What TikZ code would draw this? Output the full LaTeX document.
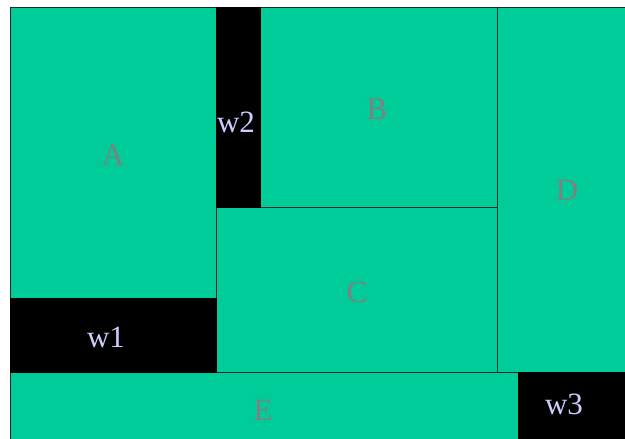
\documentclass[tikz,border=0pt]{standalone}
\usepackage{fontspec}
\setmainfont{Liberation Serif}
\definecolor{roomgreen}{RGB}{0,204,153}
\definecolor{labelgray}{RGB}{128,128,128}
\definecolor{walllabel}{RGB}{204,204,255}
\begin{document}
\begin{tikzpicture}[
        x=1pt, y=-1pt,
        room/.style={fill=roomgreen, draw=black!85, line width=0.9pt},
        wall/.style={fill=black, draw=black, line width=0.9pt},
        roomlabel/.style={text=labelgray, font=\fontsize{31}{31}\selectfont, inner sep=0pt},
        walllabel/.style={text=walllabel, font=\fontsize{31}{31}\selectfont, inner sep=0pt}
    ]
        \useasboundingbox (0,0) rectangle (625,439);

        % Rooms
        \filldraw [room] (10,7) rectangle (216,298);
        \filldraw [room] (260,7) rectangle (497,207);
        \filldraw [room] (216,207) rectangle (497,372);
        \filldraw [room] (497,7) rectangle (626,372);
        \filldraw [room] (10,372) rectangle (518,440);

        % Walls
        \filldraw [wall] (10,298) rectangle (216,372);
        \filldraw [wall] (216,7) rectangle (260,207);
        \filldraw [wall] (518,372) rectangle (626,440);

        % Labels
        \node (labelA) [roomlabel] at (113,155) {A};
        \node (labelB) [roomlabel] at (377,109) {B};
        \node (labelC) [roomlabel] at (357,292) {C};
        \node (labelD) [roomlabel] at (567,190) {D};
        \node (labelE) [roomlabel] at (263,410) {E};
        \node (labelW1) [walllabel] at (106,337) {w1};
        \node (labelW2) [walllabel] at (236,122) {w2};
        \node (labelW3) [walllabel] at (564,404) {w3};
    \end{tikzpicture}
\end{document}
